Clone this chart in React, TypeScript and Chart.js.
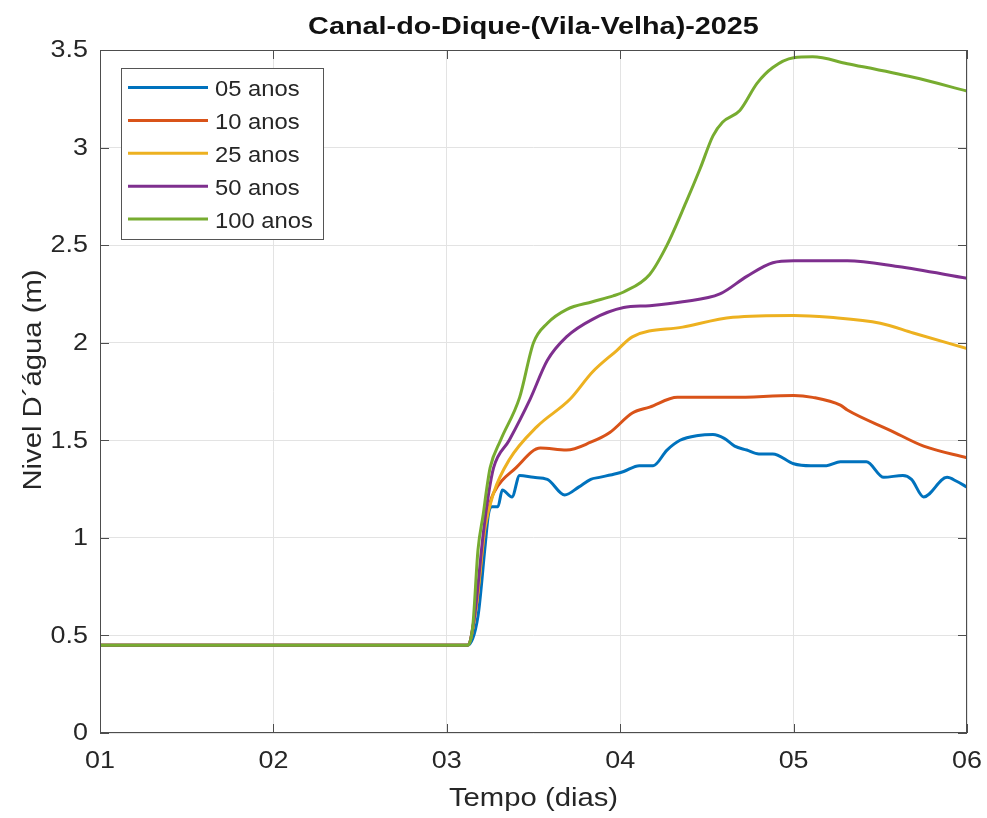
import React, { useEffect, useRef } from 'react';
import { Chart, registerables } from 'chart.js';

Chart.register(...registerables);

const TITLE = 'Canal-do-Dique-(Vila-Velha)-2025';
const X_LABEL = 'Tempo (dias)';
const Y_LABEL = 'Nivel D´água (m)';

const X_TICKS = [1, 2, 3, 4, 5, 6];
const X_TICK_LABELS = ['01', '02', '03', '04', '05', '06'];
const Y_TICKS = [0, 0.5, 1, 1.5, 2, 2.5, 3, 3.5];
const Y_TICK_LABELS = ['0', '0.5', '1', '1.5', '2', '2.5', '3', '3.5'];

const SERIES_NAMES = ['05 anos', '10 anos', '25 anos', '50 anos', '100 anos'];
const SERIES_COLORS = ['#0072BD', '#D95319', '#EDB120', '#7E2F8E', '#77AC30'];

// 05 anos
const t05 = [1, 3.12, 3.18, 3.22, 3.24, 3.26, 3.295, 3.32, 3.376, 3.42, 3.5, 3.58, 3.68, 3.76, 3.83, 3.88, 3.98, 4.02, 4.11, 4.19, 4.27, 4.345, 4.45, 4.535, 4.6, 4.66, 4.73, 4.8, 4.88, 5.0, 5.1, 5.19, 5.27, 5.42, 5.52, 5.63, 5.68, 5.75, 5.885, 5.94, 6.0];
const v05 = [0.45, 0.45, 0.6, 0.95, 1.12, 1.16, 1.16, 1.245, 1.21, 1.32, 1.31, 1.3, 1.22, 1.26, 1.3, 1.31, 1.33, 1.34, 1.37, 1.37, 1.45, 1.5, 1.525, 1.53, 1.51, 1.47, 1.45, 1.43, 1.43, 1.38, 1.37, 1.37, 1.39, 1.39, 1.31, 1.32, 1.3, 1.21, 1.31, 1.29, 1.26];

// 10 anos
const t10 = [1, 3.12, 3.17, 3.22, 3.25, 3.27, 3.4, 3.54, 3.69, 3.83, 3.94, 4.07, 4.17, 4.33, 4.65, 5.0, 5.11, 5.27, 5.31, 5.56, 5.75, 6.0];
const v10 = [0.45, 0.45, 0.65, 1.05, 1.18, 1.23, 1.36, 1.46, 1.45, 1.49, 1.54, 1.64, 1.67, 1.72, 1.72, 1.73, 1.72, 1.68, 1.655, 1.55, 1.47, 1.41];

// 25 anos
const t25 = [1, 3.12, 3.17, 3.22, 3.27, 3.36, 3.52, 3.71, 3.84, 3.98, 4.07, 4.36, 4.65, 5.0, 5.21, 5.5, 5.69, 6.0];
const v25 = [0.45, 0.45, 0.65, 1.05, 1.23, 1.4, 1.57, 1.71, 1.85, 1.96, 2.03, 2.08, 2.13, 2.14, 2.13, 2.1, 2.05, 1.97];

// 50 anos
const t50 = [1, 3.12, 3.16, 3.21, 3.24, 3.27, 3.36, 3.48, 3.58, 3.69, 3.84, 4.02, 4.17, 4.36, 4.575, 4.73, 4.88, 5.0, 5.31, 5.6, 6.0];
const v50 = [0.45, 0.45, 0.6, 1.02, 1.22, 1.36, 1.5, 1.71, 1.91, 2.03, 2.12, 2.18, 2.19, 2.21, 2.25, 2.34, 2.41, 2.42, 2.42, 2.39, 2.33];

// 100 anos
const t100 = [1, 3.12, 3.15, 3.18, 3.21, 3.23, 3.25, 3.31, 3.42, 3.5, 3.58, 3.69, 3.84, 3.96, 4.02, 4.17, 4.27, 4.38, 4.46, 4.535, 4.59, 4.69, 4.79, 4.88, 5.0, 5.11, 5.31, 5.69, 6.0];
const v100 = [0.45, 0.45, 0.55, 0.94, 1.12, 1.25, 1.36, 1.5, 1.72, 2.0, 2.1, 2.17, 2.21, 2.24, 2.26, 2.35, 2.5, 2.72, 2.89, 3.06, 3.13, 3.19, 3.33, 3.41, 3.46, 3.465, 3.43, 3.36, 3.29];

const TIMES = [t05, t10, t25, t50, t100];
const VALUES = [v05, v10, v25, v50, v100];

const FONT = '"Liberation Sans", Arial, Helvetica, sans-serif';
const TEXT_COLOR = '#262626';

function drawText(
  ctx: CanvasRenderingContext2D,
  text: string,
  x: number,
  y: number,
  font: string,
  align: CanvasTextAlign,
  sx: number,
  rot = 0,
) {
  ctx.save();
  ctx.translate(x, y);
  if (rot) ctx.rotate(rot);
  ctx.scale(sx, 1);
  ctx.font = font;
  ctx.textAlign = align;
  ctx.textBaseline = 'middle';
  ctx.fillText(text, 0, 0);
  ctx.restore();
}

const decorPlugin = {
  id: 'decor',
  afterDatasetsDraw(chart: any) {
    const { ctx, chartArea } = chart;
    const { left, right, top, bottom } = chartArea;
    const xs = chart.scales.x;
    const ys = chart.scales.y;
    ctx.save();
    // frame
    ctx.strokeStyle = '#4d4d4d';
    ctx.lineWidth = 1;
    ctx.strokeRect(left + 0.5, top + 0.5, right - left - 1, bottom - top - 1);
    // inner tick marks
    const tl = 9;
    ctx.beginPath();
    X_TICKS.forEach((v) => {
      const px = Math.round(xs.getPixelForValue(v)) + 0.5;
      ctx.moveTo(px, bottom);
      ctx.lineTo(px, bottom - tl);
      ctx.moveTo(px, top);
      ctx.lineTo(px, top + tl);
    });
    Y_TICKS.forEach((v) => {
      const py = Math.round(ys.getPixelForValue(v)) + 0.5;
      ctx.moveTo(left, py);
      ctx.lineTo(left + tl, py);
      ctx.moveTo(right, py);
      ctx.lineTo(right - tl, py);
    });
    ctx.stroke();

    // tick labels
    ctx.fillStyle = TEXT_COLOR;
    X_TICKS.forEach((v, i) => {
      drawText(ctx, X_TICK_LABELS[i], xs.getPixelForValue(v), 762, `23px ${FONT}`, 'center', 1.17);
    });
    Y_TICKS.forEach((v, i) => {
      drawText(ctx, Y_TICK_LABELS[i], 88, ys.getPixelForValue(v) + 1, `23px ${FONT}`, 'right', 1.17);
    });

    // title
    ctx.fillStyle = '#111';
    drawText(ctx, TITLE, (left + right) / 2, 27, `bold 24px ${FONT}`, 'center', 1.2);

    // axis titles
    ctx.fillStyle = TEXT_COLOR;
    drawText(ctx, X_LABEL, (left + right) / 2, 799, `25px ${FONT}`, 'center', 1.17);
    drawText(ctx, Y_LABEL, 34, 380, `25px ${FONT}`, 'center', 1.17, -Math.PI / 2);

    // legend
    const lx = 121, ly = 68, lw = 202, lh = 171;
    ctx.fillStyle = '#fff';
    ctx.fillRect(lx, ly, lw, lh);
    ctx.strokeStyle = '#555';
    ctx.lineWidth = 1;
    ctx.strokeRect(lx + 0.5, ly + 0.5, lw, lh);
    SERIES_NAMES.forEach((name, i) => {
      const y = 87.5 + i * 32.9;
      ctx.strokeStyle = SERIES_COLORS[i];
      ctx.lineWidth = 3;
      ctx.beginPath();
      ctx.moveTo(128, y);
      ctx.lineTo(208, y);
      ctx.stroke();
      ctx.fillStyle = TEXT_COLOR;
      drawText(ctx, name, 215, y + 2.5, `22px ${FONT}`, 'left', 1.08);
    });
    ctx.restore();
  },
};

export default function App() {
  const ref = useRef<HTMLCanvasElement | null>(null);
  useEffect(() => {
    document.body.style.margin = '0';
    const canvas = ref.current;
    if (!canvas) return;
    const datasets = SERIES_NAMES.map((name, i) => ({
      label: name,
      data: TIMES[i].map((t, j) => ({ x: t, y: VALUES[i][j] })),
      borderColor: SERIES_COLORS[i],
      backgroundColor: SERIES_COLORS[i],
      borderWidth: 3,
      pointRadius: 0,
      cubicInterpolationMode: 'monotone' as const,
      order: SERIES_NAMES.length - i,
    }));
    const chart = new Chart(canvas, {
      type: 'line',
      data: { datasets },
      options: {
        animation: false,
        responsive: false,
        maintainAspectRatio: false,
        layout: { padding: { top: 50, right: 20, left: 0, bottom: 0 } },
        plugins: {
          legend: { display: false },
          title: { display: false },
          tooltip: { enabled: false },
        },
        scales: {
          x: {
            type: 'linear',
            min: 1,
            max: 6,
            afterBuildTicks: (s: any) => {
              s.ticks = X_TICKS.map((v) => ({ value: v }));
            },
            afterFit: (s: any) => {
              s.height = 85;
            },
            ticks: { display: false },
            grid: { color: '#e3e3e3', lineWidth: 1, drawTicks: false },
            border: { display: false },
          },
          y: {
            type: 'linear',
            min: 0,
            max: 3.5,
            afterBuildTicks: (s: any) => {
              s.ticks = Y_TICKS.map((v) => ({ value: v }));
            },
            afterFit: (s: any) => {
              s.width = 100;
            },
            ticks: { display: false },
            grid: { color: '#e3e3e3', lineWidth: 1, drawTicks: false },
            border: { display: false },
          },
        },
      },
      plugins: [decorPlugin],
    });
    return () => chart.destroy();
  }, []);
  return <canvas ref={ref} width={987} height={818} style={{ display: 'block' }} />;
}
